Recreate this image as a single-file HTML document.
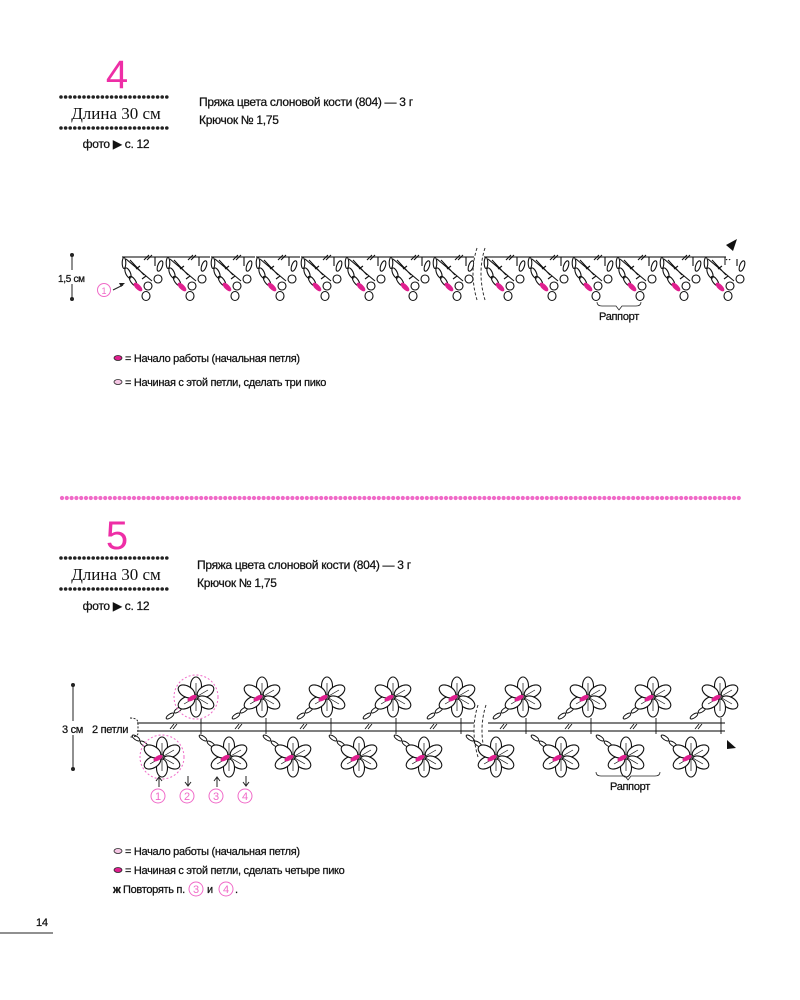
<!DOCTYPE html>
<html><head><meta charset="utf-8"><style>
body{margin:0;background:#fff;}
svg{display:block;font-family:"Liberation Sans",sans-serif;}
.t{fill:#111;stroke:#111;stroke-width:0.25;letter-spacing:-0.3px;}
</style></head><body>
<svg width="800" height="1000" viewBox="0 0 800 1000" xmlns="http://www.w3.org/2000/svg">
<defs>
<g id="m1" fill="none" stroke="#111" stroke-width="1.1">
 <line x1="0" y1="0" x2="44" y2="0" stroke="#555" stroke-width="1.4"/>
 <path d="M22 3l5-5M25 3l5-5"/>
 <line x1="33" y1="0" x2="33" y2="9"/>
 <ellipse cx="2" cy="6" rx="1.8" ry="5.5"/>
 <ellipse cx="6" cy="16" rx="2.3" ry="5.5" transform="rotate(-25 6 16)"/>
 <ellipse cx="11" cy="24" rx="2.3" ry="5.5" transform="rotate(-35 11 24)"/>
 <ellipse cx="16" cy="30" rx="2" ry="5" transform="rotate(-45 16 30)" fill="#e0208f" stroke="#e0208f"/>
 <path d="M4 2L30 24M8 3L22 18M14 12l4-3M20 22l4-3"/>
 <ellipse cx="24" cy="39" rx="4" ry="4.5"/>
 <ellipse cx="26" cy="29" rx="4" ry="4"/>
 <ellipse cx="36" cy="22" rx="4" ry="4"/>
 <ellipse cx="38" cy="9" rx="2.3" ry="5.5" transform="rotate(20 38 9)"/>
</g>
<g id="fl" fill="#fff" stroke="#111" stroke-width="1.1">
 <ellipse cx="0" cy="-11" rx="5.5" ry="9"/>
 <ellipse cx="0" cy="-11" rx="5.5" ry="9" transform="rotate(60)"/>
 <ellipse cx="0" cy="-11" rx="5.5" ry="9" transform="rotate(120)"/>
 <ellipse cx="0" cy="-11" rx="5.5" ry="9" transform="rotate(180)"/>
 <ellipse cx="0" cy="-11" rx="5.5" ry="9" transform="rotate(240)"/>
 <ellipse cx="0" cy="-11" rx="5.5" ry="9" transform="rotate(300)"/>
 <path d="M0 0v-14M0 0l12 -7M0 0l12 7M0 0v14M0 0l-12 7" stroke-width="0.7"/>
 <ellipse cx="-4" cy="-1" rx="4.5" ry="1.8" transform="rotate(-30)" fill="#e0208f" stroke="#e0208f"/>
</g>
<g id="chUp" fill="none" stroke="#111" stroke-width="1">
 <ellipse cx="-10" cy="8" rx="4.5" ry="1.8" transform="rotate(-35 -10 8)"/>
 <ellipse cx="-18" cy="13" rx="4.5" ry="1.8" transform="rotate(-35 -18 13)"/>
 <ellipse cx="-26" cy="19" rx="4.5" ry="1.8" transform="rotate(-35 -26 19)"/>
</g>
<g id="chDn" fill="none" stroke="#111" stroke-width="1">
 <ellipse cx="-10" cy="-8" rx="4.5" ry="1.8" transform="rotate(35 -10 -8)"/>
 <ellipse cx="-18" cy="-13" rx="4.5" ry="1.8" transform="rotate(35 -18 -13)"/>
 <ellipse cx="-26" cy="-19" rx="4.5" ry="1.8" transform="rotate(35 -26 -19)"/>
</g>
</defs>

<text x="117" y="88" font-size="40" fill="#ee2ea6" text-anchor="middle">4</text>
<line x1="61" y1="97" x2="171" y2="97" stroke="#222" stroke-width="3.6" stroke-linecap="round" stroke-dasharray="0 4.6"/>
<text x="116" y="119" font-size="17" text-anchor="middle" font-family="Liberation Serif" fill="#111">Длина 30 см</text>
<line x1="61" y1="128" x2="171" y2="128" stroke="#222" stroke-width="3.6" stroke-linecap="round" stroke-dasharray="0 4.6"/>
<text x="116" y="148" font-size="12" text-anchor="middle" class="t">фото ▶ с. 12</text>
<text x="199" y="106" font-size="12" class="t">Пряжа цвета слоновой кости (804) — 3 г</text>
<text x="199" y="124" font-size="12" class="t">Крючок № 1,75</text>

<line x1="72" y1="255" x2="72" y2="299" stroke="#222"/>
<circle cx="72" cy="255" r="2" fill="#222"/><circle cx="72" cy="299" r="2" fill="#222"/>
<rect x="58" y="270" width="30" height="14" fill="#fff"/>
<text x="58" y="282" font-size="10" class="t">1,5 см</text>
<circle cx="104" cy="290" r="6.5" fill="none" stroke="#f06ac8"/>
<text x="104" y="294" font-size="9" fill="#f06ac8" text-anchor="middle">1</text>
<path d="M113 290l10-5" stroke="#222" fill="none"/><path d="M125 283l-6 0 2 4z" fill="#222"/>
<use href="#m1" x="122" y="257"/><use href="#m1" x="166" y="257"/><use href="#m1" x="211" y="257"/><use href="#m1" x="256" y="257"/>
<use href="#m1" x="301" y="257"/><use href="#m1" x="345" y="257"/><use href="#m1" x="389" y="257"/><use href="#m1" x="433" y="257"/>
<rect x="474" y="245" width="10" height="60" fill="#fff"/>
<path d="M477 248q-8 25 0 52M485 248q-8 25 0 52" stroke="#333" fill="none" stroke-dasharray="3 2"/>
<use href="#m1" x="484" y="257"/><use href="#m1" x="528" y="257"/><use href="#m1" x="572" y="257"/><use href="#m1" x="616" y="257"/>
<use href="#m1" x="660" y="257"/><use href="#m1" x="704" y="257"/>
<rect x="726" y="254" width="26" height="5" fill="#fff"/>
<line x1="725" y1="257" x2="725" y2="265" stroke="#111"/>
<path d="M726 245l11-6-4 12z" fill="#111"/>
<path d="M597 302q0 4 5 4h14l3 4 3-4h14q5 0 5-4" stroke="#222" fill="none" stroke-width="0.8"/>
<text x="619" y="320" font-size="11" text-anchor="middle" class="t">Раппорт</text>
<ellipse cx="118" cy="358" rx="4" ry="2.5" fill="#e0208f" stroke="#222" stroke-width="0.8"/>
<text x="125" y="362" font-size="11" class="t">= Начало работы (начальная петля)</text>
<ellipse cx="118" cy="382" rx="4" ry="2.5" fill="#f5c6e4" stroke="#222" stroke-width="0.8"/>
<text x="125" y="386" font-size="11" class="t">= Начиная с этой петли, сделать три пико</text>

<line x1="62" y1="498" x2="740" y2="498" stroke="#f06ac8" stroke-width="4.2" stroke-linecap="round" stroke-dasharray="0 4.8"/>

<text x="117" y="549" font-size="40" fill="#ee2ea6" text-anchor="middle">5</text>
<line x1="61" y1="558" x2="171" y2="558" stroke="#222" stroke-width="3.6" stroke-linecap="round" stroke-dasharray="0 4.6"/>
<text x="116" y="580" font-size="17" text-anchor="middle" font-family="Liberation Serif" fill="#111">Длина 30 см</text>
<line x1="61" y1="589" x2="171" y2="589" stroke="#222" stroke-width="3.6" stroke-linecap="round" stroke-dasharray="0 4.6"/>
<text x="116" y="610" font-size="12" text-anchor="middle" class="t">фото ▶ с. 12</text>
<text x="197" y="569" font-size="12" class="t">Пряжа цвета слоновой кости (804) — 3 г</text>
<text x="197" y="587" font-size="12" class="t">Крючок № 1,75</text>

<line x1="73" y1="685" x2="73" y2="769" stroke="#222"/>
<circle cx="73" cy="685" r="2" fill="#222"/><circle cx="73" cy="769" r="2" fill="#222"/>
<rect x="60" y="721" width="28" height="14" fill="#fff"/>
<text x="62" y="733" font-size="11" class="t">3 см</text>
<text x="92" y="733" font-size="11" class="t">2 петли</text>
<path d="M130 718q8 0 8 5v10q0 4-8 4" stroke="#222" fill="none" stroke-dasharray="2 1.5"/>
<g stroke="#555" stroke-width="1.4">
<line x1="137" y1="723" x2="725" y2="723"/><line x1="137" y1="731" x2="725" y2="731"/>
</g>
<g stroke="#111" stroke-width="0.9" fill="none">
<path d="M170 729l4-5M173 729l4-5M235 729l4-5M238 729l4-5M300 729l4-5M303 729l4-5M365 729l4-5M368 729l4-5M430 729l4-5M433 729l4-5M500 729l4-5M503 729l4-5M565 729l4-5M568 729l4-5M630 729l4-5M633 729l4-5M695 729l4-5M698 729l4-5"/>
<path d="M201 718v16M266 718v16M331 718v16M396 718v16M461 718v16M526 718v16M591 718v16M656 718v16M721 718v16"/>
</g>
<rect x="474" y="718" width="14" height="18" fill="#fff"/>
<path d="M478 705q-8 25 0 52M486 705q-8 25 0 52" stroke="#333" fill="none" stroke-dasharray="3 2"/>
<use href="#chUp" x="196" y="697"/><use href="#fl" x="196" y="697"/>
<use href="#chUp" x="262" y="697"/><use href="#fl" x="262" y="697"/>
<use href="#chUp" x="327" y="697"/><use href="#fl" x="327" y="697"/>
<use href="#chUp" x="393" y="697"/><use href="#fl" x="393" y="697"/>
<use href="#chUp" x="457" y="697"/><use href="#fl" x="457" y="697"/>
<use href="#chUp" x="523" y="697"/><use href="#fl" x="523" y="697"/>
<use href="#chUp" x="588" y="697"/><use href="#fl" x="588" y="697"/>
<use href="#chUp" x="653" y="697"/><use href="#fl" x="653" y="697"/>
<use href="#chUp" x="720" y="697"/><use href="#fl" x="720" y="697"/>
<use href="#chDn" x="162" y="757"/><use href="#fl" x="162" y="757"/>
<use href="#chDn" x="229" y="757"/><use href="#fl" x="229" y="757"/>
<use href="#chDn" x="293" y="757"/><use href="#fl" x="293" y="757"/>
<use href="#chDn" x="359" y="757"/><use href="#fl" x="359" y="757"/>
<use href="#chDn" x="424" y="757"/><use href="#fl" x="424" y="757"/>
<use href="#chDn" x="496" y="757"/><use href="#fl" x="496" y="757"/>
<use href="#chDn" x="561" y="757"/><use href="#fl" x="561" y="757"/>
<use href="#chDn" x="626" y="757"/><use href="#fl" x="626" y="757"/>
<use href="#chDn" x="691" y="757"/><use href="#fl" x="691" y="757"/>
<circle cx="196" cy="697" r="22" fill="none" stroke="#f06ac8" stroke-dasharray="2 2"/>
<circle cx="162" cy="757" r="22" fill="none" stroke="#f06ac8" stroke-dasharray="2 2"/>
<path d="M727 740l9 8-9 1z" fill="#111"/>
<path d="M596 772q0 4 5 4h24l3 4 3-4h24q5 0 5-4" stroke="#222" fill="none" stroke-width="0.8"/>
<text x="630" y="790" font-size="11" text-anchor="middle" class="t">Раппорт</text>
<g stroke="#222" fill="none" stroke-width="1">
<path d="M159 787v-10M156 781l3-4 3 4"/>
<path d="M188 776v10M185 782l3 4 3-4"/>
<path d="M217 787v-10M214 781l3-4 3 4"/>
<path d="M246 776v10M243 782l3 4 3-4"/>
</g>
<g fill="none" stroke="#f06ac8"><circle cx="158" cy="796" r="7"/><circle cx="187" cy="796" r="7"/><circle cx="216" cy="796" r="7"/><circle cx="245" cy="796" r="7"/></g>
<g font-size="11" fill="#f06ac8" text-anchor="middle"><text x="158" y="800">1</text><text x="187" y="800">2</text><text x="216" y="800">3</text><text x="245" y="800">4</text></g>
<ellipse cx="118" cy="851" rx="4" ry="2.5" fill="#f5c6e4" stroke="#222" stroke-width="0.8"/>
<text x="125" y="855" font-size="11" class="t">= Начало работы (начальная петля)</text>
<ellipse cx="118" cy="870" rx="4" ry="2.5" fill="#e0208f" stroke="#222" stroke-width="0.8"/>
<text x="125" y="874" font-size="11" class="t">= Начиная с этой петли, сделать четыре пико</text>
<text x="113" y="893" font-size="11" class="t" font-weight="bold">ж</text>
<text x="123" y="893" font-size="11" class="t">Повторять п.</text>
<circle cx="196" cy="889" r="7" fill="none" stroke="#f06ac8"/><text x="196" y="893" font-size="11" fill="#f06ac8" text-anchor="middle">3</text>
<text x="207" y="893" font-size="11" class="t">и</text>
<circle cx="226" cy="889" r="7" fill="none" stroke="#f06ac8"/><text x="226" y="893" font-size="11" fill="#f06ac8" text-anchor="middle">4</text>
<text x="235" y="893" font-size="11" class="t">.</text>
<text x="36" y="926" font-size="11" class="t">14</text>
<line x1="0" y1="933" x2="53" y2="933" stroke="#222"/>
</svg>
</body></html>
